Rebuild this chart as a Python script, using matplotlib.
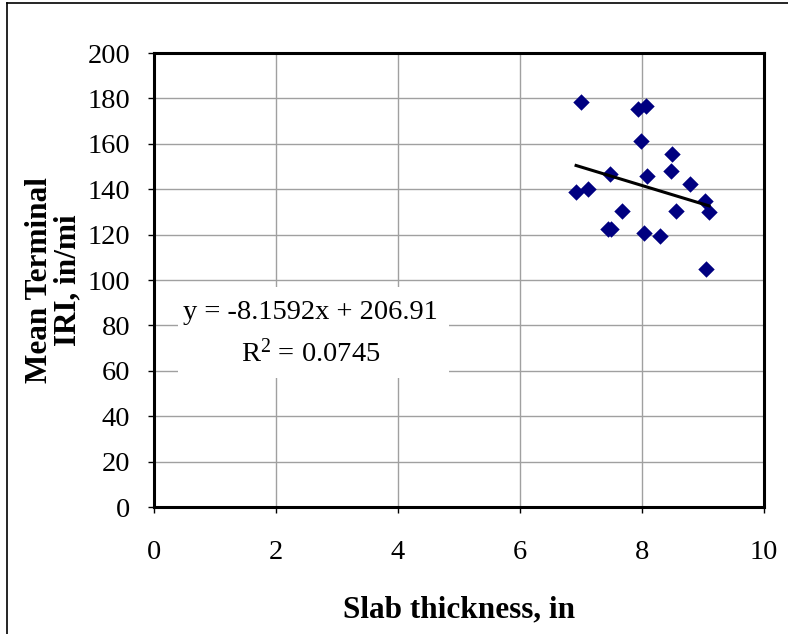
import numpy as np
import matplotlib
matplotlib.use("Agg")
import matplotlib.pyplot as plt
from matplotlib.patches import Rectangle
from matplotlib.lines import Line2D

plt.rcParams['font.family'] = ['Liberation Serif', 'DejaVu Serif']
plt.rcParams['mathtext.fontset'] = 'custom'
plt.rcParams['mathtext.rm'] = 'Liberation Serif'
plt.rcParams['mathtext.it'] = 'Liberation Serif:italic'
plt.rcParams['mathtext.bf'] = 'Liberation Serif:bold'

# slab thickness (in) vs mean terminal IRI (in/mi)
thickness = [7.00, 7.94, 8.06, 7.98, 8.50, 7.48, 8.09, 8.47, 8.79, 6.92,
             7.12, 9.03, 9.10, 8.55, 7.68, 7.45, 7.50, 8.03, 8.30, 9.05]
iri = [178.2, 175.2, 176.7, 161.3, 155.5, 146.7, 145.9, 147.8, 142.3, 138.6,
       140.1, 134.9, 130.1, 130.3, 130.3, 122.5, 122.5, 120.6, 119.6, 104.9]

slope = -8.1592
intercept = 206.91
r2 = 0.0745

xticks = [0, 2, 4, 6, 8, 10]
yticks = list(range(0, 201, 20))

fig = plt.figure(figsize=(7.88, 6.34), dpi=100)
ax = fig.add_axes([0.1954, 0.2003, 0.7741, 0.7161])

ax.set_axisbelow(True)
ax.grid(True, color="#a0a0a0", lw=1.0)

ax.scatter(thickness, iri, marker="D", s=70, color="#000080", zorder=3, linewidths=0)

xl = np.array([min(thickness), max(thickness)])
ax.plot(xl, slope * xl + intercept, color="black", lw=2.2, zorder=4)

ax.set_xlim(0, 10)
ax.set_ylim(0, 200)
ax.set_xticks(xticks)
ax.set_yticks(yticks)
ax.tick_params(labelsize=20.5, direction="out", length=4, width=1)
ax.tick_params(axis="y", pad=13)
ax.tick_params(axis="x", pad=20)
for s in ax.spines.values():
    s.set_linewidth(2.2)

# white box behind the trendline equation
ax.add_patch(Rectangle((0.039, 0.284), 0.445, 0.2, transform=ax.transAxes,
                       facecolor="white", edgecolor="none", zorder=1))
ax.text(0.257, 0.429, "y = -8.1592x + 206.91", transform=ax.transAxes,
        ha="center", va="center", fontsize=20.5)
ax.text(0.257, 0.338, "R$^{2}$ = %.4f" % r2, transform=ax.transAxes,
        ha="center", va="center", fontsize=20.5)

ax.set_xlabel("Slab thickness, in", fontsize=22.5, fontweight="bold", labelpad=22)
ax.set_ylabel("Mean Terminal\nIRI, in/mi", fontsize=22.5, fontweight="bold",
              labelpad=4, linespacing=0.95)

# outer chart frame (left and top edges visible)
fig.add_artist(Line2D([0.009, 0.009], [0.0, 0.995], color="black", lw=1.2))
fig.add_artist(Line2D([0.009, 1.0], [0.995, 0.995], color="black", lw=1.2))

fig.savefig("out.png", dpi=100)
